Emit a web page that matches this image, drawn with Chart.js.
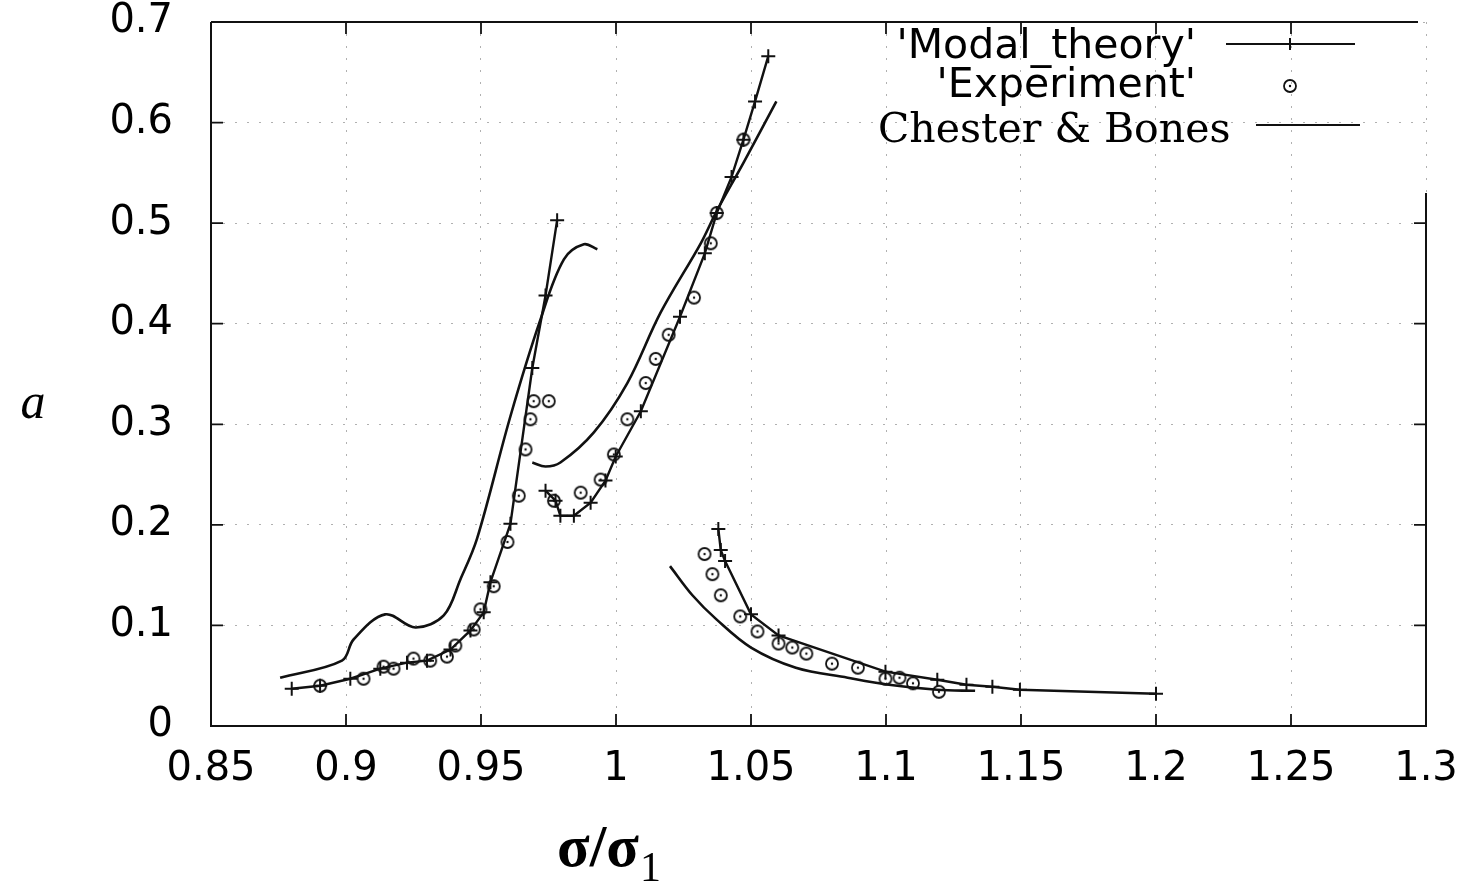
<!DOCTYPE html>
<html>
<head>
<meta charset="utf-8">
<script src="https://cdn.jsdelivr.net/npm/chart.js@4.4.0/dist/chart.umd.min.js"></script>
<style>
  html, body { margin: 0; padding: 0; background: #fff; }
  #wrap { width: 1472px; height: 885px; position: relative; }
</style>
</head>
<body>
<div id="wrap"><canvas id="c"></canvas></div>
<script>
// Axis ranges and ticks
const xTicks = [0.85, 0.9, 0.95, 1, 1.05, 1.1, 1.15, 1.2, 1.25, 1.3];
const yTicks = [0, 0.1, 0.2, 0.3, 0.4, 0.5, 0.6, 0.7];

// 'Modal_theory' – three branches
const modalLeftX = [0.8799, 0.8904, 0.9016, 0.9127, 0.9226, 0.9300, 0.9387, 0.9461, 0.9510, 0.9535, 0.9609, 0.9690, 0.9739, 0.9782];
const modalLeftY = [0.037, 0.040, 0.047, 0.057, 0.063, 0.065, 0.076, 0.095, 0.113, 0.143, 0.201, 0.356, 0.428, 0.503];

const modalMidX = [0.9739, 0.9776, 0.9794, 0.9844, 0.9906, 0.9961, 0.9999, 1.0092, 1.0237, 1.0329, 1.0373, 1.0428, 1.0472, 1.0515, 1.0564];
const modalMidY = [0.234, 0.224, 0.209, 0.209, 0.222, 0.244, 0.268, 0.313, 0.407, 0.470, 0.510, 0.546, 0.583, 0.621, 0.666];

const modalRightX = [1.0379, 1.0388, 1.0404, 1.0500, 1.0602, 1.0998, 1.1190, 1.1298, 1.1394, 1.1496, 1.2000];
const modalRightY = [0.196, 0.175, 0.164, 0.111, 0.090, 0.054, 0.046, 0.041, 0.039, 0.036, 0.032];

// 'Experiment'
const expX = [0.8904, 0.9065, 0.9139, 0.9176, 0.9250, 0.9312, 0.9374, 0.9405, 0.9473, 0.9498, 0.9547, 0.9598, 0.9640, 0.9665, 0.9683, 0.9695, 0.9751,
              0.9770, 0.9869, 0.9943, 0.9992, 1.0042, 1.0110, 1.0147, 1.0195, 1.0289, 1.0351, 1.0373, 1.0472,
              1.0328, 1.0357, 1.0388, 1.0460, 1.0524, 1.0602, 1.0653, 1.0705, 1.0800, 1.0896, 1.0998, 1.1050, 1.1100, 1.1196];
const expY = [0.040, 0.047, 0.059, 0.057, 0.067, 0.065, 0.069, 0.080, 0.096, 0.116, 0.139, 0.183, 0.229, 0.275, 0.305, 0.323, 0.323,
              0.224, 0.232, 0.245, 0.270, 0.305, 0.341, 0.365, 0.389, 0.426, 0.480, 0.510, 0.583,
              0.171, 0.151, 0.130, 0.109, 0.094, 0.082, 0.078, 0.072, 0.062, 0.058, 0.047, 0.048, 0.0425, 0.034];

// Chester & Bones – three branches
const cbLeftX = [0.8756, 0.8985, 0.9028, 0.9145, 0.9257, 0.9362, 0.9424, 0.9485, 0.9609, 0.9720, 0.9807, 0.9881, 0.9931];
const cbLeftY = [0.048, 0.065, 0.086, 0.111, 0.098, 0.110, 0.146, 0.186, 0.308, 0.404, 0.464, 0.479, 0.474];

const cbMidX = [0.9690, 0.9739, 0.9794, 0.9918, 1.0042, 1.0165, 1.0314, 1.0373, 1.0472, 1.0594];
const cbMidY = [0.262, 0.258, 0.262, 0.292, 0.341, 0.411, 0.480, 0.512, 0.560, 0.621];

const cbRightX = [1.0200, 1.0283, 1.0372, 1.0500, 1.0666, 1.0858, 1.1011, 1.1190, 1.1330];
const cbRightY = [0.159, 0.130, 0.106, 0.078, 0.058, 0.048, 0.041, 0.036, 0.035];

const seriesNames = ["'Modal_theory'", "'Experiment'", "Chester & Bones"];

const pts = (xs, ys) => xs.map((x, i) => ({ x, y: ys[i] }));
const INK = '#111';

// small circle with a centre dot for the measured points
function ringDot() {
  const cv = document.createElement('canvas');
  cv.width = 18; cv.height = 18;
  const g = cv.getContext('2d');
  g.strokeStyle = INK; g.lineWidth = 1.8;
  g.beginPath(); g.arc(9, 9, 6, 0, Math.PI * 2); g.stroke();
  g.fillStyle = INK;
  g.beginPath(); g.arc(9, 9, 1.2, 0, Math.PI * 2); g.fill();
  return cv;
}
const ringImg = ringDot();

const modalStyle = {
  showLine: true, borderColor: INK, borderWidth: 2.4, tension: 0,
  pointStyle: 'cross', pointRadius: 7, pointBorderWidth: 2, pointBorderColor: INK,
  pointBackgroundColor: INK, fill: false
};
const cbStyle = {
  showLine: true, borderColor: INK, borderWidth: 2.6, tension: 0.35,
  pointRadius: 0, fill: false
};

const datasets = [
  Object.assign({ label: seriesNames[2], data: pts(cbLeftX, cbLeftY) }, cbStyle),
  Object.assign({ label: seriesNames[2], data: pts(cbMidX, cbMidY) }, cbStyle),
  Object.assign({ label: seriesNames[2], data: pts(cbRightX, cbRightY) }, cbStyle),
  Object.assign({ label: seriesNames[0], data: pts(modalLeftX, modalLeftY) }, modalStyle),
  Object.assign({ label: seriesNames[0], data: pts(modalMidX, modalMidY) }, modalStyle),
  Object.assign({ label: seriesNames[0], data: pts(modalRightX, modalRightY) }, modalStyle),
  { label: seriesNames[1], data: pts(expX, expY), showLine: false, pointStyle: ringImg, pointRadius: 7 }
];

const fmt = v => String(parseFloat(Number(v).toFixed(2)));

// frame, mirrored inner tick marks, key and axis titles
const decor = {
  id: 'decor',
  afterDatasetsDraw(chart) {
    const { ctx, chartArea: a, scales } = chart;
    const xs = scales.x, ys = scales.y;
    ctx.save();
    ctx.strokeStyle = INK;
    ctx.lineWidth = 2;
    // frame (right side starts below the key)
    ctx.beginPath();
    ctx.moveTo(a.left, a.top); ctx.lineTo(a.right - 8, a.top);
    ctx.moveTo(a.left, a.top); ctx.lineTo(a.left, a.bottom); ctx.lineTo(a.right, a.bottom);
    ctx.lineTo(a.right, ys.getPixelForValue(0.53));
    ctx.stroke();
    // tick marks
    const tl = 12;
    ctx.lineWidth = 1.8;
    ctx.beginPath();
    yTicks.forEach(v => {
      const py = ys.getPixelForValue(v);
      ctx.moveTo(a.left, py); ctx.lineTo(a.left + tl, py);
      if (v > 0 && v <= 0.5) { ctx.moveTo(a.right, py); ctx.lineTo(a.right - tl, py); }
    });
    xTicks.forEach(v => {
      const px = xs.getPixelForValue(v);
      ctx.moveTo(px, a.bottom); ctx.lineTo(px, a.bottom - tl);
      if (v < 1.3) { ctx.moveTo(px, a.top); ctx.lineTo(px, a.top + tl); }
    });
    ctx.stroke();

    // key
    ctx.fillStyle = '#000';
    ctx.textBaseline = 'middle';
    ctx.textAlign = 'right';
    ctx.font = '41px "DejaVu Sans"';
    ctx.fillText(seriesNames[0], 1196, 47);
    ctx.fillText(seriesNames[1], 1196, 86);
    ctx.textAlign = 'left';
    ctx.font = '41px "DejaVu Serif"';
    ctx.fillText(seriesNames[2], 878, 131);

    ctx.lineWidth = 2;
    ctx.beginPath();
    ctx.moveTo(1226, 44); ctx.lineTo(1355, 44);
    ctx.moveTo(1256, 125); ctx.lineTo(1360, 125);
    ctx.stroke();
    ctx.beginPath();
    ctx.moveTo(1290, 38); ctx.lineTo(1290, 50);
    ctx.moveTo(1284, 44); ctx.lineTo(1296, 44);
    ctx.stroke();
    ctx.drawImage(ringImg, 1290 - 9, 86 - 9);

    // axis titles
    ctx.textAlign = 'center';
    ctx.font = 'italic 50px "Liberation Serif"';
    ctx.fillText('a', 33, 405);
    ctx.textAlign = 'left';
    ctx.textBaseline = 'alphabetic';
    ctx.font = 'bold 60px "Liberation Serif"';
    ctx.fillText('σ/σ', 557, 866);
    const w = ctx.measureText('σ/σ').width;
    ctx.font = '42px "Liberation Serif"';
    ctx.fillText('1', 557 + w + 1, 881);
    ctx.restore();
  }
};

new Chart(document.getElementById('c'), {
  type: 'scatter',
  data: { datasets },
  options: {
    responsive: true,
    maintainAspectRatio: false,
    animation: false,
    devicePixelRatio: 1,
    layout: { padding: { top: 22, right: 46, left: 0, bottom: 0 } },
    plugins: { legend: { display: false }, tooltip: { enabled: false } },
    scales: {
      x: {
        type: 'linear', min: 0.85, max: 1.3,
        afterFit: s => { s.height = 159; },
        afterBuildTicks: s => { s.ticks = xTicks.map(v => ({ value: v })); },
        ticks: { callback: fmt, color: '#000', padding: 0, maxRotation: 0, autoSkip: false,
                 font: { family: 'DejaVu Sans', size: 40, lineHeight: 1 } },
        grid: { color: '#b0b0b0', lineWidth: 1, drawTicks: true, tickLength: 24, tickColor: 'rgba(0,0,0,0)' },
        border: { display: false, dash: [2, 10] }
      },
      y: {
        type: 'linear', min: 0, max: 0.7,
        afterFit: s => { s.width = 211; },
        afterBuildTicks: s => { s.ticks = yTicks.map(v => ({ value: v })); },
        ticks: { callback: fmt, color: '#000', padding: 0, autoSkip: false,
                 font: { family: 'DejaVu Sans', size: 40, lineHeight: 1 } },
        grid: { color: '#b0b0b0', lineWidth: 1, drawTicks: true, tickLength: 38, tickColor: 'rgba(0,0,0,0)' },
        border: { display: false, dash: [2, 10] }
      }
    }
  },
  plugins: [decor]
});
</script>
</body>
</html>
